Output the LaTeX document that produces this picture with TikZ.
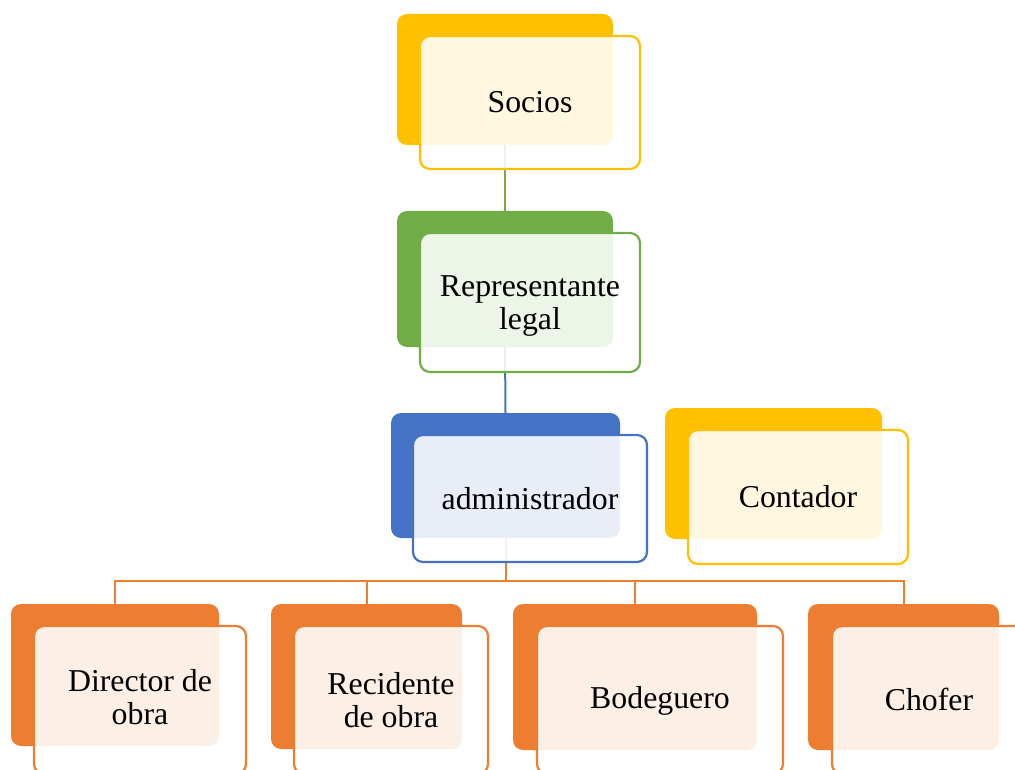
\documentclass[tikz,border=0pt]{standalone}
\usepackage{fontspec}
\setmainfont{Liberation Serif}
\definecolor{cyel}{HTML}{FFC000}
\definecolor{cgrn}{HTML}{70AD47}
\definecolor{cblu}{HTML}{4472C4}
\definecolor{corg}{HTML}{ED7D31}
\begin{document}
\begin{tikzpicture}[x=1pt,y=-1pt,
  backbox/.style={fill=#1, draw=none, rounded corners=10pt, inner sep=0pt},
  frontbox/.style={draw=#1, line width=2.2pt, fill=white, fill opacity=0.88,
    rounded corners=10pt, inner sep=0pt},
  lbl/.style={align=center, inner sep=0pt, font=\fontsize{31.8}{33}\selectfont},
  conn/.style={line width=2pt, draw=#1}]
\useasboundingbox (0,0) rectangle (1015,770);
\clip (0,0) rectangle (1015,770);
% back boxes
\node[backbox=cyel, minimum width=216pt, minimum height=131pt] (sociosb) at (505,79.5) {};
\node[backbox=cgrn, minimum width=216pt, minimum height=136pt] (repb) at (505,279) {};
\node[backbox=cblu, minimum width=229pt, minimum height=125pt] (adminb) at (505.5,475.5) {};
\node[backbox=cyel, minimum width=217pt, minimum height=131pt] (contb) at (773.5,473.5) {};
\node[backbox=corg, minimum width=208pt, minimum height=142pt] (dirb) at (115,675) {};
\node[backbox=corg, minimum width=191pt, minimum height=145pt] (recb) at (366.5,676.5) {};
\node[backbox=corg, minimum width=244pt, minimum height=146pt] (bodb) at (635,677) {};
\node[backbox=corg, minimum width=191pt, minimum height=146pt] (chob) at (903.5,677) {};
% connectors
\coordinate (bus) at (505.5,581);
\draw[conn=cgrn] (sociosb.south) -- (repb.north);
\draw[conn=cblu] (repb.south) -- (adminb.north);
\draw[conn=corg] (adminb.south) -- (bus);
\draw[conn=corg] (dirb.north) |- (bus);
\draw[conn=corg] (recb.north) |- (bus);
\draw[conn=corg] (bodb.north) |- (bus);
\draw[conn=corg] (chob.north) |- (bus);
% front boxes
\node[frontbox=cyel, minimum width=220pt, minimum height=133pt] (socios) at (530,102.5) {};
\node[frontbox=cgrn, minimum width=220pt, minimum height=139pt] (rep) at (530,302.5) {};
\node[frontbox=cblu, minimum width=234pt, minimum height=127pt] (admin) at (530,498.5) {};
\node[frontbox=cyel, minimum width=220pt, minimum height=134pt] (cont) at (798,497) {};
\node[frontbox=corg, minimum width=212pt, minimum height=148pt] (dir) at (140,700) {};
\node[frontbox=corg, minimum width=194pt, minimum height=148pt] (rec) at (391,700) {};
\node[frontbox=corg, minimum width=246pt, minimum height=148pt] (bod) at (660,700) {};
\node[frontbox=corg, minimum width=194pt, minimum height=148pt] (cho) at (929,700) {};
% labels
\node[lbl] (sociost) at (socios.center) {Socios};
\node[lbl] (rept) at ([yshift=-4pt]rep.center) {Representante\\legal};
\node[lbl] (admint) at (admin.center) {administrador};
\node[lbl] (contt) at (cont.center) {Contador};
\node[lbl] (dirt) at ([yshift=3pt]dir.center) {Director de\\obra};
\node[lbl] (rect) at ([yshift=0pt]rec.center) {Recidente\\de obra};
\node[lbl] (bodt) at ([yshift=-1pt]bod.center) {Bodeguero};
\node[lbl] (chot) at ([yshift=1pt]cho.center) {Chofer};
\end{tikzpicture}
\end{document}
